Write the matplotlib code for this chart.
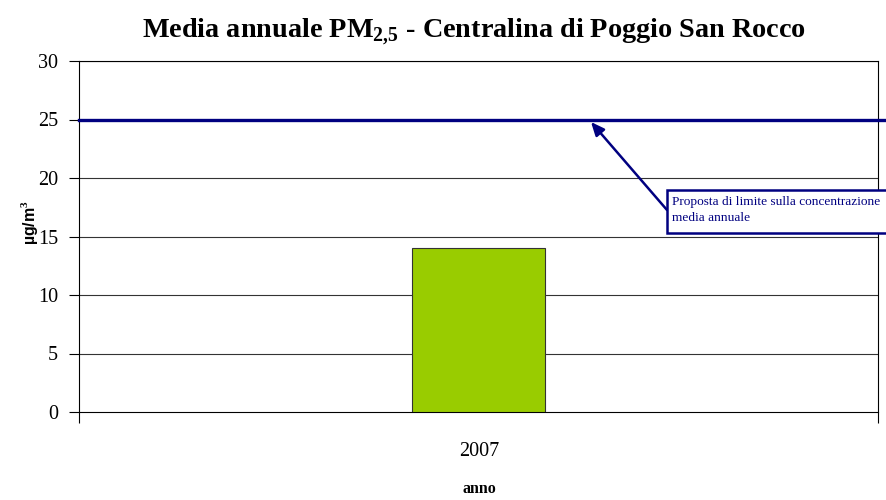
import matplotlib
matplotlib.use("Agg")
import matplotlib.pyplot as plt
from matplotlib.patches import Rectangle

categories = ["2007"]
values = [14.0]
limit_value = 25
y_ticks = [0, 5, 10, 15, 20, 25, 30]

plt.rcParams['font.family'] = ['Liberation Serif', 'DejaVu Serif']
plt.rcParams['mathtext.fontset'] = 'custom'
plt.rcParams['mathtext.rm'] = 'Liberation Serif'
plt.rcParams['mathtext.bf'] = 'Liberation Serif:bold'

W, H = 887, 500
fig = plt.figure(figsize=(8.87, 5.0), dpi=100)
ax = fig.add_axes([79/W, 1-412/H, (878-79)/W, (412-61)/H])

ax.set_xlim(-0.5, 0.5)
ax.set_ylim(0, 30)
ax.bar([0], values, width=0.167, color="#99CC00", edgecolor="#333333", linewidth=0.8, zorder=3)
ax.set_yticks(y_ticks)
ax.set_yticklabels([str(t) for t in y_ticks], fontsize=14.5)
for t in y_ticks[1:]:
    ax.axhline(t, color="#333333", linewidth=0.8, zorder=1)
ax.axhline(limit_value, xmin=0, xmax=1.015, color="#000080", linewidth=2.4, clip_on=False, zorder=4)

ax.set_xticks([-0.5, 0.5])
ax.set_xticklabels(["", ""])
ax.tick_params(axis='x', length=8, width=0.8, direction='out')
ax.tick_params(axis='y', length=7, width=0.8, direction='out', pad=8)
fig.text(479/W, 1-452/H, categories[0], ha='center', va='center', fontsize=14.5)
fig.text(479/W, 1-489/H, "anno", ha='center', va='center', fontsize=11.5, fontweight='bold')

for s in ax.spines.values():
    s.set_linewidth(0.8)
    s.set_color("#000000")

fig.text(30/W, 1-222/H, "µg/m$^{\\mathbf{3}}$", rotation=90, ha='center', va='center',
         fontsize=11.5, fontweight='bold', family=['Liberation Sans', 'DejaVu Sans'])

fig.text(474/W, 1-32/H, "Media annuale PM$_{\\mathbf{2{,}5}}$ - Centralina di Poggio San Rocco",
         ha='center', va='center', fontsize=20.3, fontweight='bold')

fig.patches.append(Rectangle((667/W, 1-233/H), 240/W, 43/H, transform=fig.transFigure,
                             facecolor='white', edgecolor='#000080', linewidth=1.8, zorder=6))
fig.text(672/W, 1-210/H, "Proposta di limite sulla concentrazione\nmedia annuale",
         ha='left', va='center', fontsize=9.6, color="#000080", linespacing=1.55, zorder=7)

ax.annotate("", xy=(591/W, 1-122/H), xycoords='figure fraction',
            xytext=(667/W, 1-210/H), textcoords='figure fraction',
            arrowprops=dict(arrowstyle='-|>,head_length=0.8,head_width=0.35', color='#000080', linewidth=1.8,
                            shrinkA=0, shrinkB=0),
            annotation_clip=False, zorder=5)

fig.savefig("out.png", dpi=100)
